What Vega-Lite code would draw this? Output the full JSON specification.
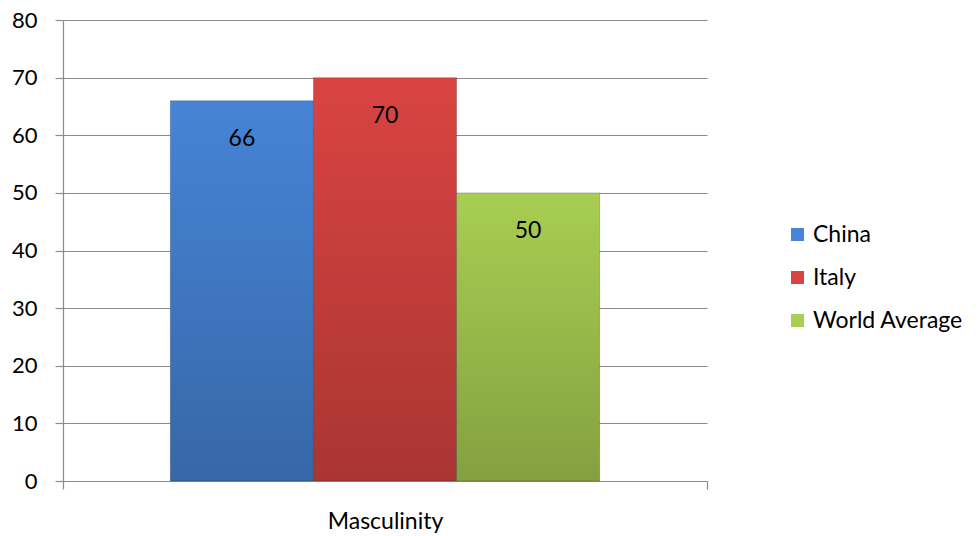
{
  "$schema": "https://vega.github.io/schema/vega-lite/v6.json",
  "width": 644,
  "height": 461,
  "autosize": {"type": "none"},
  "padding": {"left": 63, "top": 20, "right": 271, "bottom": 55},
  "background": "white",
  "config": {
    "font": "Lato",
    "view": {"stroke": null},
    "axis": {"labelFont": "Lato", "labelColor": "#000000", "domainColor": "#8c8c8c", "tickColor": "#8c8c8c", "gridColor": "#8c8c8c"}
  },
  "data": {
    "values": [
      {"dimension": "Masculinity", "country": "China", "score": 66},
      {"dimension": "Masculinity", "country": "Italy", "score": 70},
      {"dimension": "Masculinity", "country": "World Average", "score": 50}
    ]
  },
  "encoding": {
    "x": {
      "field": "dimension",
      "type": "nominal",
      "scale": {"paddingInner": 0, "paddingOuter": 0},
      "axis": {
        "title": null,
        "labelAngle": 0,
        "labelFontSize": 23,
        "labelPadding": 21,
        "tickBand": "extent",
        "tickSize": 8,
        "domainWidth": 1.2,
        "tickWidth": 1.2
      }
    },
    "xOffset": {
      "field": "country",
      "type": "nominal",
      "scale": {"paddingInner": 0, "paddingOuter": 0.75}
    },
    "y": {
      "field": "score",
      "type": "quantitative",
      "scale": {"domain": [0, 80]},
      "axis": {
        "title": null,
        "values": [0, 10, 20, 30, 40, 50, 60, 70, 80],
        "labelFontSize": 22,
        "labelPadding": 18,
        "tickSize": 8,
        "domainWidth": 1.2,
        "tickWidth": 1.2,
        "gridWidth": 1.2
      }
    }
  },
  "layer": [
    {
      "mark": {"type": "bar", "stroke": "#000000", "strokeOpacity": 0.2, "strokeWidth": 1},
      "encoding": {
        "color": {
          "field": "country",
          "type": "nominal",
          "scale": {
            "domain": ["China", "Italy", "World Average"],
            "range": ["#4684d6", "#d94441", "#a8ce52"]
          },
          "legend": {
            "title": null,
            "orient": "none",
            "legendX": 723,
            "legendY": 203,
            "symbolType": "square",
            "symbolSize": 170,
            "symbolStrokeWidth": 0,
            "labelFontSize": 23,
            "labelFont": "Lato",
            "labelColor": "#000000",
            "labelOffset": 4,
            "rowPadding": 19
          }
        }
      }
    },
    {
      "mark": {
        "type": "bar",
        "color": {
          "gradient": "linear",
          "x1": 0, "y1": 0, "x2": 0, "y2": 1,
          "stops": [
            {"offset": 0, "color": "rgba(0,0,0,0)"},
            {"offset": 1, "color": "rgba(0,0,0,0.22)"}
          ]
        }
      }
    },
    {
      "mark": {"type": "text", "dy": 38, "baseline": "middle", "fontSize": 23, "font": "Lato", "color": "#000000"},
      "encoding": {"text": {"field": "score", "type": "quantitative"}}
    }
  ]
}
